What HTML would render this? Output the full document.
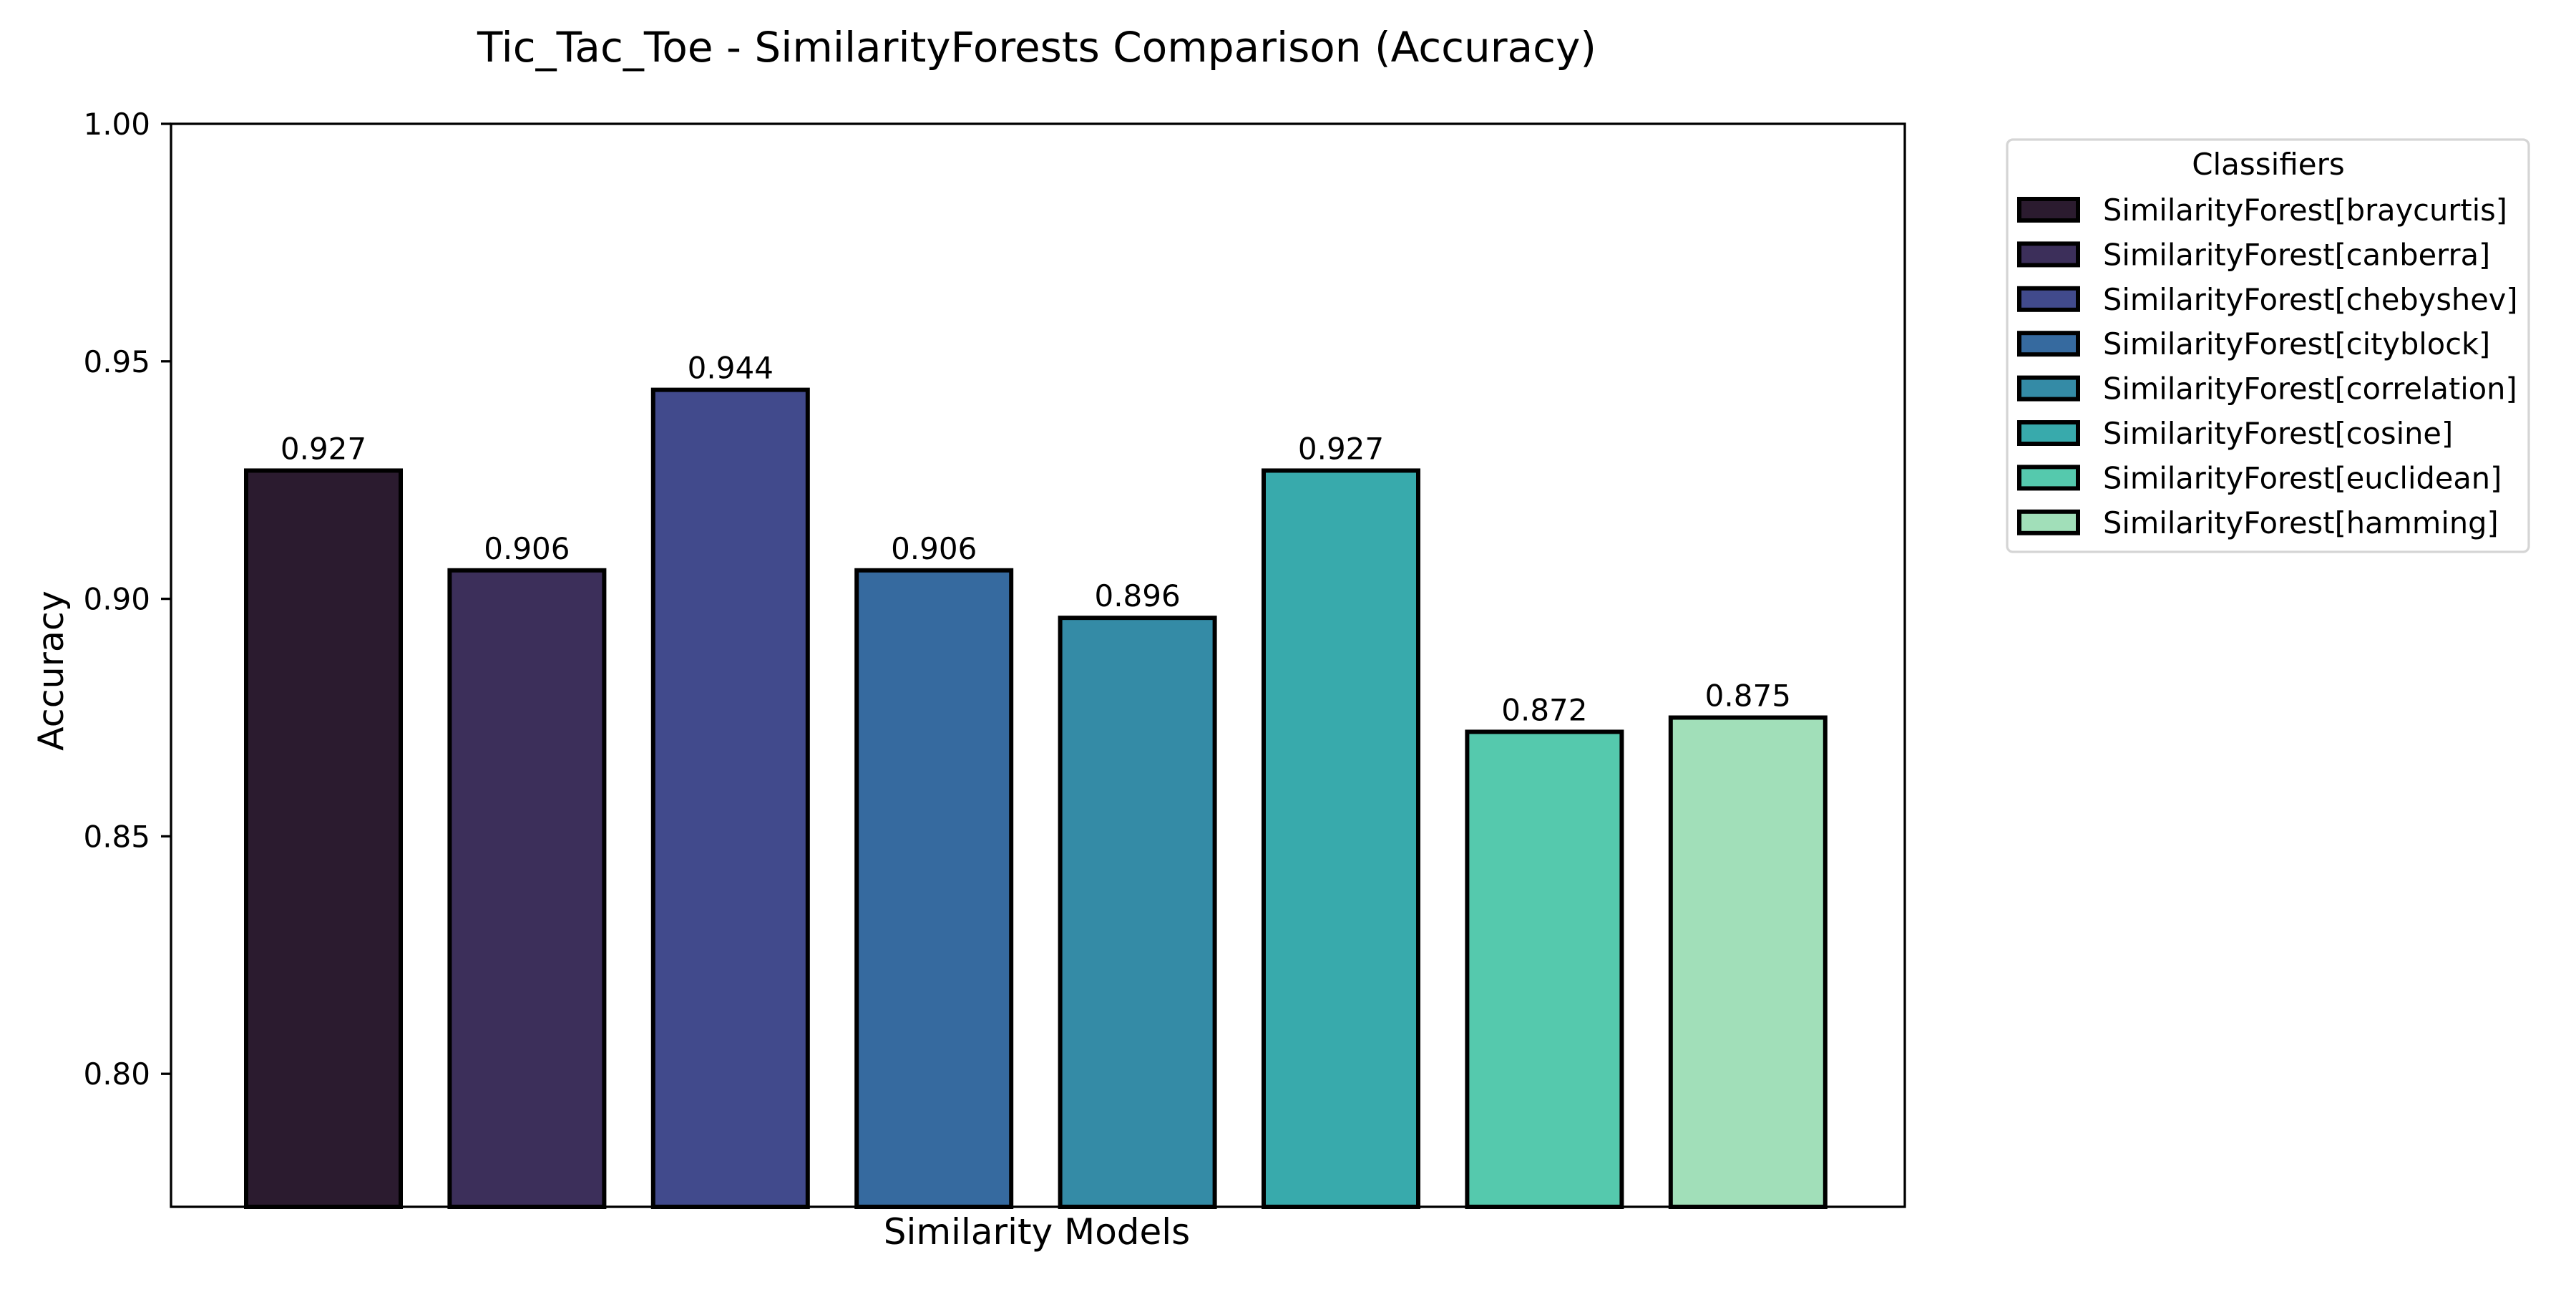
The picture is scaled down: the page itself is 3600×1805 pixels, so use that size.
<!DOCTYPE html>
<html><head><meta charset="utf-8"><style>
html,body{margin:0;padding:0;background:#fff;}
svg text{font-family:"DejaVu Sans","Liberation Sans",sans-serif;}
</style></head><body>
<svg id="chart" width="3600" height="1800" viewBox="0 0 3600 1800" xmlns="http://www.w3.org/2000/svg">
<rect width="3600" height="1800" fill="#fff"/>
<text x="1449" y="86" font-size="58" text-anchor="middle">Tic_Tac_Toe - SimilarityForests Comparison (Accuracy)</text>
<text x="1449" y="1738" font-size="50" text-anchor="middle">Similarity Models</text>
<text transform="translate(88,937) rotate(-90)" font-size="49" text-anchor="middle">Accuracy</text>
<g id="bars"></g>
<g id="yaxis"></g>
<rect x="239" y="173" width="2423" height="1513" fill="none" stroke="#000" stroke-width="3.3"/>
<g id="legend">
<rect x="2805" y="195" width="729" height="576" rx="8" fill="#fff" stroke="#d5d5d5" stroke-width="3.3"/>
<text x="3170" y="244" font-size="42" text-anchor="middle">Classifiers</text>
</g>
</svg>
<script>
const categories=["braycurtis","canberra","chebyshev","cityblock","correlation","cosine","euclidean","hamming"];
const values=[0.927,0.906,0.944,0.906,0.896,0.927,0.872,0.875];
const valueLabels=["0.927","0.906","0.944","0.906","0.896","0.927","0.872","0.875"];
const yTicks=[0.80,0.85,0.90,0.95,1.00];
const yTickLabels=["0.80","0.85","0.90","0.95","1.00"];
const colors=["#2b1b2f","#3c2f5a","#414a8c","#366a9f","#348ba6","#38aaac","#55c9ad","#a1dfb9"];
const NS="http://www.w3.org/2000/svg";
const yMin=0.772,yMax=1.0,pTop=173,pBot=1686;
function y(v){return pTop+(yMax-v)/(yMax-yMin)*(pBot-pTop);}
function x(i){return 452+i*284.4;}
const bw=216;
const bars=document.getElementById('bars');
function mk(tag,attrs,parent){const e=document.createElementNS(NS,tag);for(const k in attrs)e.setAttribute(k,attrs[k]);parent.appendChild(e);return e;}
values.forEach((v,i)=>{
  const r=mk('rect',{x:x(i)-bw/2,y:y(v),width:bw,height:pBot-y(v),fill:colors[i],stroke:'#000','stroke-width':6},bars);
  
  
  const t=mk('text',{x:x(i),y:y(v)-16,'font-size':42,'text-anchor':'middle'},bars);
  t.textContent=valueLabels[i];
  
  
});
const ya=document.getElementById('yaxis');
yTicks.forEach((v,i)=>{
  const l=mk('line',{x1:225,x2:239,y1:y(v),y2:y(v),stroke:'#000','stroke-width':3.3},ya);
  
  
  const t=mk('text',{x:210,y:y(v)+15,'font-size':42,'text-anchor':'end'},ya);
  t.textContent=yTickLabels[i];
  
  
});
const lg=document.getElementById('legend');
categories.forEach((c,i)=>{
  const cy=293+i*62.4;
  const r=mk('rect',{x:2822,y:cy-15,width:82,height:30,fill:colors[i],stroke:'#000','stroke-width':6},lg);
  
  
  const t=mk('text',{x:2939,y:cy+15,'font-size':41.5},lg);
  t.textContent='SimilarityForest['+c+']';
  
  
});
</script>
</body></html>
